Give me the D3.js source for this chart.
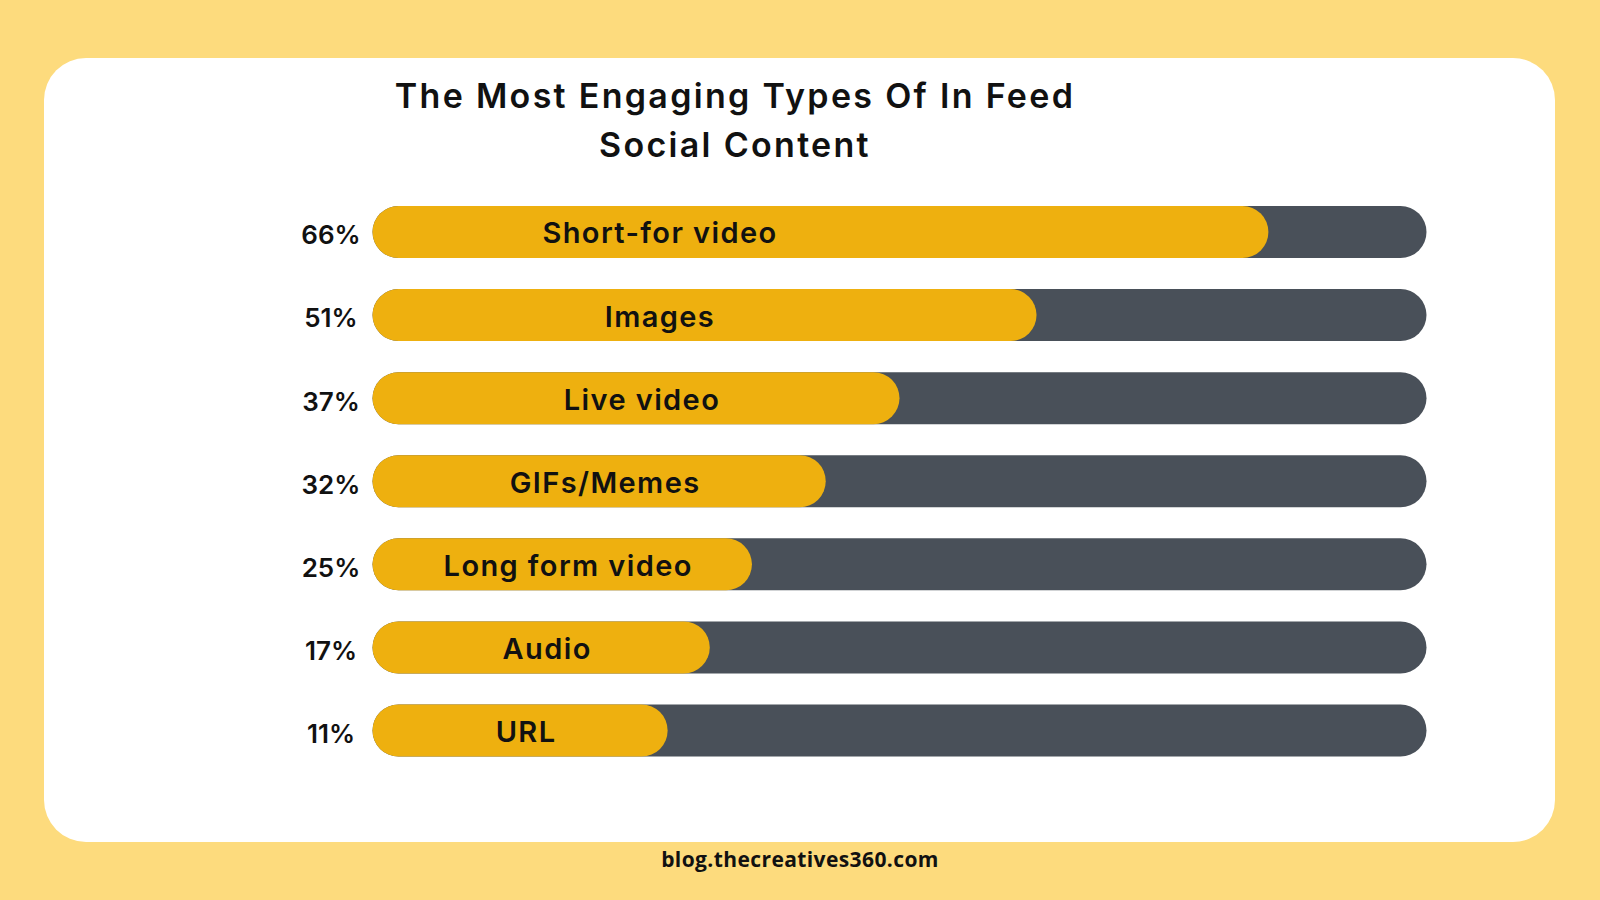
<!DOCTYPE html>
<html>
<head>
<meta charset="utf-8">
<script src="https://cdn.jsdelivr.net/npm/d3@7"></script>
<style>
  body { margin: 0; background: #fddb7d; }
  svg { display: block; }
  .title { font-family: Inter, "Open Sans", sans-serif; font-weight: 600; fill: #111; letter-spacing: 2.3px; }
  .cat { font-family: Inter, "Open Sans", sans-serif; font-weight: 600; fill: #111; letter-spacing: 1.4px; }
  .pct { font-family: Inter, "Open Sans", sans-serif; font-weight: 600; fill: #111; }
  .footer { font-family: "Open Sans", sans-serif; font-weight: 700; fill: #111; }
</style>
</head>
<body>
<script>
// values as printed next to each bar
var categories = ["Short-for video", "Images", "Live video", "GIFs/Memes", "Long form video", "Audio", "URL"];
var shares = [66, 51, 37, 32, 25, 17, 11];
// length of the yellow part as drawn, in % of the grey track (not proportional to shares)
var barFill = [85, 63, 50, 43, 36, 32, 28];

var titleLines = ["The Most Engaging Types Of In Feed", "Social Content"];
var footerText = "blog.thecreatives360.com";

var rows = categories.map(function (c, i) {
    return { name: c, share: shares[i], fill: barFill[i] };
});

var svg = d3.select("body").append("svg")
    .attr("width", 1600)
    .attr("height", 900);

svg.append("rect")
    .attr("width", 1600)
    .attr("height", 900)
    .attr("fill", "#fddb7d");

// white card
svg.append("rect")
    .attr("x", 44)
    .attr("y", 58)
    .attr("width", 1511)
    .attr("height", 784)
    .attr("rx", 42)
    .attr("fill", "#ffffff");

var barH = 52;

var x = d3.scaleLinear()
    .domain([0, 100])
    .range([372.5, 1426.5]);

var y = d3.scalePoint()
    .domain(categories)
    .range([232, 730.5]);

svg.append("g")
    .selectAll("text")
    .data(titleLines)
    .enter().append("text")
    .attr("class", "title")
    .attr("x", 735)
    .attr("y", function (d, i) { return 108 + i * 49; })
    .attr("text-anchor", "middle")
    .style("font-size", "34px")
    .text(function (d) { return d; });

var row = svg.append("g")
    .selectAll("g")
    .data(rows)
    .enter().append("g")
    .attr("transform", function (d) { return "translate(0," + y(d.name) + ")"; });

// grey track
row.append("rect")
    .attr("x", x(0))
    .attr("y", -barH / 2)
    .attr("width", x(100) - x(0))
    .attr("height", barH)
    .attr("rx", barH / 2)
    .attr("fill", "#495059");

// yellow part
row.append("rect")
    .attr("x", x(0))
    .attr("y", -barH / 2)
    .attr("width", function (d) { return x(d.fill) - x(0); })
    .attr("height", barH)
    .attr("rx", barH / 2)
    .attr("fill", "#eeb00f");

row.append("text")
    .attr("class", "cat")
    .attr("x", function (d) { return Math.min((x(0) + x(d.fill)) / 2 + 6, 660); })
    .attr("y", 1)
    .attr("dy", "0.36em")
    .attr("text-anchor", "middle")
    .style("font-size", "29px")
    .text(function (d) { return d.name; });

row.append("text")
    .attr("class", "pct")
    .attr("x", 331)
    .attr("y", 3)
    .attr("dy", "0.36em")
    .attr("text-anchor", "middle")
    .style("font-size", "26px")
    .text(function (d) { return d.share + "%"; });

svg.append("text")
    .attr("class", "footer")
    .attr("x", 800)
    .attr("y", 867)
    .attr("text-anchor", "middle")
    .style("font-size", "21px")
    .style("letter-spacing", "0.4px")
    .text(footerText);
</script>
</body>
</html>
